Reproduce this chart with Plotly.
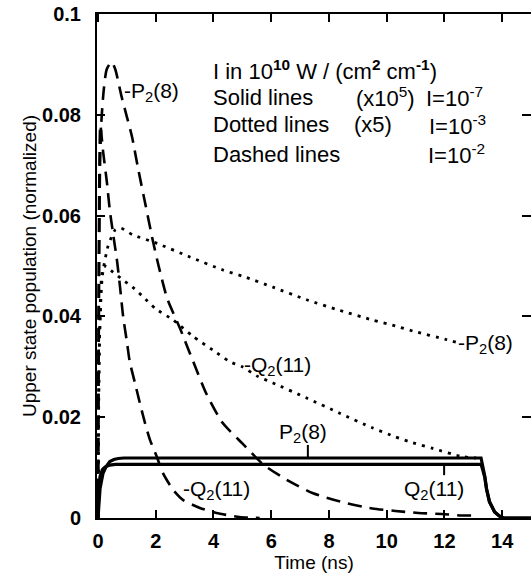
import plotly.graph_objects as go

# ---------------- data ----------------
# Dashed lines (I = 1e-2)
t_dash_p = [0, 0.03, 0.07, 0.12, 0.2, 0.3, 0.47, 0.6, 0.8, 1.0, 1.18, 1.4, 1.65, 1.9, 2.1, 2.4,
            2.85, 3.3, 3.75, 4.3, 5.0, 5.75, 6.65, 7.45, 8.5, 9.5, 10.3, 11.1, 11.9, 12.6, 13.1]
v_dash_p = [0, 0.040, 0.070, 0.079, 0.085, 0.089, 0.0905, 0.089, 0.084, 0.0796, 0.0756, 0.069, 0.062,
            0.055, 0.050, 0.0435, 0.0375, 0.031, 0.0247, 0.019, 0.0148, 0.0105, 0.0072, 0.0049,
            0.0031, 0.0019, 0.0014, 0.0010, 0.0008, 0.0005, 0.0005]
t_dash_q = [0, 0.03, 0.08, 0.17, 0.31, 0.41, 0.52, 0.66, 0.76, 0.87, 1.0, 1.1, 1.28, 1.45, 1.63,
            1.8, 2.04, 2.25, 2.6, 2.94, 3.53, 4.1, 4.9, 5.6]
v_dash_q = [0, 0.055, 0.078, 0.073, 0.0665, 0.061, 0.0565, 0.051, 0.046, 0.040, 0.035, 0.031,
            0.0268, 0.0228, 0.0188, 0.0155, 0.0121, 0.0089, 0.0056, 0.0036, 0.0020, 0.0010,
            0.0002, 0.0]

# Dotted lines (I = 1e-3, x5)
t_dot_p = [0, 0.05, 0.15, 0.35, 0.6, 0.8, 1.2, 2.04, 3.18, 4.33, 5.1, 6.06, 7.23, 8.37, 9.5,
           10.3, 10.9, 12.07, 12.45]
v_dot_p = [0, 0.035, 0.048, 0.054, 0.0572, 0.0575, 0.0562, 0.0545, 0.0518, 0.0492, 0.0478,
           0.0458, 0.0433, 0.0412, 0.0393, 0.0381, 0.0371, 0.0354, 0.0348]
t_dot_q = [0, 0.05, 0.2, 0.52, 0.87, 1.2, 1.56, 2.0, 2.6, 3.3, 3.98, 4.57, 5.0, 5.5, 6.06,
           7.23, 8.37, 9.5, 10.3, 10.8, 11.6, 12.6, 13.1]
v_dot_q = [0, 0.035, 0.050, 0.0488, 0.0472, 0.0458, 0.0439, 0.0415, 0.0393, 0.036, 0.0333,
           0.031, 0.0300, 0.0282, 0.0268, 0.0238, 0.0208, 0.0179, 0.0161, 0.0151, 0.0138,
           0.0122, 0.0119]

# Solid lines (I = 1e-7, x1e5)
t_sol_p = [0, 0.03, 0.07, 0.17, 0.28, 0.41, 0.55, 0.7, 0.9, 13.27, 13.32, 13.4, 13.46, 13.56,
           13.74, 13.9, 14.05, 15.0]
v_sol_p = [0, 0.0035, 0.0058, 0.0088, 0.0102, 0.0112, 0.0116, 0.0118, 0.0119, 0.0119, 0.0105,
           0.0083, 0.0058, 0.0033, 0.0012, 0.0004, 0.0, 0.0]
t_sol_q = [0, 0.02, 0.07, 0.15, 0.24, 0.41, 0.6, 13.27, 13.33, 13.4, 13.46, 13.56, 13.74, 13.9,
           14.05, 15.0]
v_sol_q = [0, 0.0050, 0.0082, 0.0096, 0.0101, 0.0105, 0.01065, 0.01065, 0.0095, 0.0080, 0.0057,
           0.0032, 0.0012, 0.0004, 0.0, 0.0]

# label leader ticks
t_lead_p = [7.27, 7.27]
v_lead_p = [0.0121, 0.0145]
t_lead_q = [11.99, 11.99]
v_lead_q = [0.0104, 0.0085]

x_ticks = [0, 2, 4, 6, 8, 10, 12, 14]
y_ticks = [0, 0.02, 0.04, 0.06, 0.08, 0.1]
y_ticktext = ["0", "0.02", "0.04", "0.06", "0.08", "0.1"]

FONT = "Liberation Sans, Arial, Helvetica, sans-serif"
BLACK = "#000000"

fig = go.Figure()

def add(t, v, dash, width, shape="spline"):
    fig.add_trace(go.Scatter(x=t, y=v, mode="lines", showlegend=False, hoverinfo="skip",
                             line=dict(color=BLACK, width=width, dash=dash, shape=shape,
                                       smoothing=0.6 if shape == "spline" else None)))

add(t_dash_p, v_dash_p, "14px,8px", 2.6)
add(t_dash_q, v_dash_q, "14px,8px", 2.6)
add(t_dot_p, v_dot_p, "3px,6px", 2.8)
add(t_dot_q, v_dot_q, "3px,6px", 2.8)
add(t_sol_p, v_sol_p, "solid", 3.2, "linear")
add(t_sol_q, v_sol_q, "solid", 3.2, "linear")
add(t_lead_p, v_lead_p, "solid", 2, "linear")
add(t_lead_q, v_lead_q, "solid", 2, "linear")
# invisible trace to anchor the right-hand tick axis
fig.add_trace(go.Scatter(x=[0], y=[0], yaxis="y2", mode="markers", marker=dict(opacity=0),
                         showlegend=False, hoverinfo="skip"))

# ---------------- annotations ----------------
def label(x, y, text, size=21):
    fig.add_annotation(x=x, y=y, xref="x", yref="y", text=text, showarrow=False,
                       xanchor="left", yanchor="middle",
                       font=dict(family=FONT, size=size, color=BLACK))

# legend block
label(3.92, 0.0889, "I in 10<sup><b>10</b></sup> W / (cm<sup><b>2</b></sup> cm<sup><b>-1</b></sup>)", 22)
label(3.92, 0.0835, "Solid lines", 22)
label(8.87, 0.0835, "(x10<sup>5</sup>)", 22)
label(11.30, 0.0835, "I=10<sup>-7</sup>", 22)
label(3.92, 0.0780, "Dotted lines", 22)
label(8.80, 0.0780, "(x5)", 22)
label(11.40, 0.0780, "I=10<sup>-3</sup>", 22)
label(3.92, 0.0722, "Dashed lines", 22)
label(11.37, 0.0722, "I=10<sup>-2</sup>", 22)

# curve labels
label(0.84, 0.0845, "-P<sub>2</sub>(8)")
label(12.40, 0.0345, "-P<sub>2</sub>(8)")
label(4.98, 0.0302, "-Q<sub>2</sub>(11)")
label(6.20, 0.0168, "P<sub>2</sub>(8)")
label(10.53, 0.0055, "Q<sub>2</sub>(11)")
label(2.87, 0.0055, "-Q<sub>2</sub>(11)")

axis_common = dict(showline=True, linecolor=BLACK, linewidth=2, ticks="inside",
                   ticklen=8, tickwidth=1.5, tickcolor=BLACK, showgrid=False, zeroline=False,
                   tickfont=dict(family=FONT, size=20, color=BLACK, weight="bold"))

fig.update_layout(
    width=531, height=573,
    margin=dict(l=97, r=0, t=14, b=55),
    paper_bgcolor="white", plot_bgcolor="white",
    xaxis=dict(range=[-0.035, 15.0], tickvals=x_ticks, mirror="ticks",
               ticklabelstandoff=4,
               title=dict(text="Time (ns)", standoff=8,
                          font=dict(family=FONT, size=19, color=BLACK)),
               **axis_common),
    yaxis=dict(range=[0, 0.1], tickvals=y_ticks, ticktext=y_ticktext, mirror=False,
               ticklabelstandoff=10,
               title=dict(text="Upper state population (normalized)", standoff=0,
                          font=dict(family=FONT, size=19, color=BLACK)),
               **axis_common),
    yaxis2=dict(range=[0, 0.1], overlaying="y", side="right", showline=False,
                ticks="inside", ticklen=9, tickwidth=1.5, tickcolor=BLACK,
                tickvals=y_ticks, showticklabels=False, showgrid=False, zeroline=False),
)

fig.write_html("out.html")
